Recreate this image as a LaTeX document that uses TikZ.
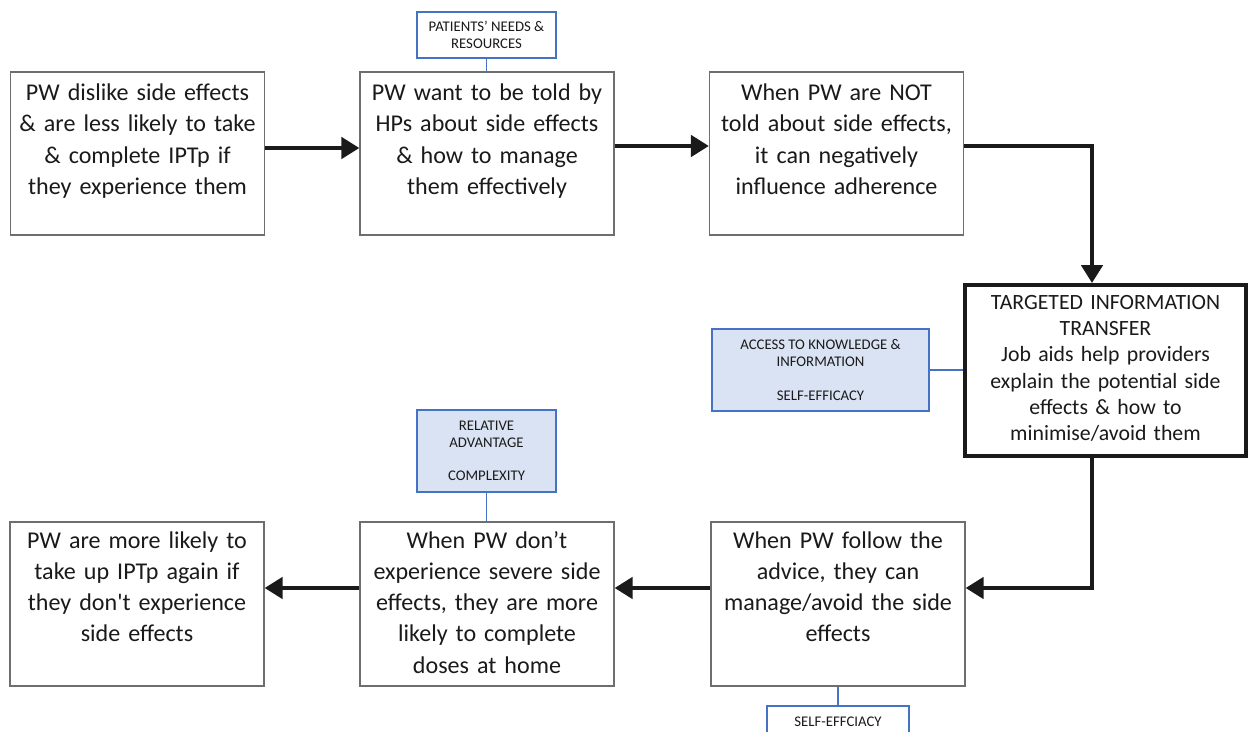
\documentclass[tikz,border=0pt]{standalone}
\usepackage{fontspec}
\setmainfont{Carlito}
\usetikzlibrary{arrows.meta}
\definecolor{ink}{HTML}{1A1A1A}
\definecolor{edge}{HTML}{6E6E6E}
\definecolor{tagline}{HTML}{4472C4}
\definecolor{tagfill}{HTML}{DAE3F3}
\tikzset{
  stepbox/.style={draw=edge, line width=0.7pt, fill=white, text=ink, align=center,
    text width=4.9cm, minimum width=5.08cm, inner xsep=0pt, inner ysep=0pt,
    text height=0.57cm, text depth=2.69cm, font=\fontsize{13.7}{17.8}\selectfont},
  keybox/.style={stepbox, draw=ink, line width=2.2pt, text width=5.62cm, minimum width=5.62cm,
    text height=0.48cm, text depth=2.94cm, font=\fontsize{12.4}{15}\selectfont},
  tag/.style={draw=tagline, line width=0.8pt, fill=white, text=ink, align=center,
    minimum width=2.78cm, inner sep=0pt, font=\fontsize{8.4}{9.5}\selectfont},
  tagf/.style={tag, fill=tagfill},
  flow/.style={draw=ink, line width=2.8pt, -{Triangle[length=0.36cm,width=0.42cm]}},
  link/.style={draw=tagline, line width=1.1pt},
}

\begin{document}
\begin{tikzpicture}[x=0.02cm,y=-0.02cm]
  \clip (0,0) rectangle (1248,732);
  % top row
  \node[stepbox] (dislike) at (137.5,153.5) {PW dislike side effects\\ \& are less likely to take\\ \& complete IPTp if\\ they experience them};
  \node[stepbox] (told) at (487,153.5) {PW want to be told by\\ HPs about side effects\\ \& how to manage\\ them effectively};
  \node[stepbox] (nottold) at (836.5,153.5) {When PW are NOT\\ told about side effects,\\ it can negatively\\ influence adherence};
  \node[keybox] (transfer) at (1105.5,370.5) {TARGETED INFORMATION\\ TRANSFER\\ Job aids help providers\\ explain the potential side\\ effects \& how to\\ minimise/avoid them};
  % bottom row
  \node[stepbox, text height=0.52cm, text depth=2.76cm] (follow) at (838,604) {When PW follow the\\ advice, they can\\ manage/avoid the side\\ effects};
  \node[stepbox, text height=0.52cm, text depth=2.76cm] (severe) at (487,604) {When PW don’t\\ experience severe side\\ effects, they are more\\ likely to complete\\ doses at home};
  \node[stepbox, text height=0.52cm, text depth=2.76cm] (again) at (137,604) {PW are more likely to\\ take up IPTp again if\\ they don\textquotesingle t experience\\ side effects};
  % determinant tags
  \node[tag, minimum height=0.92cm] (needs) at (486.5,35) {PATIENTS’ NEEDS \&\\ RESOURCES};
  \node[tagf, minimum width=4.34cm, minimum height=1.64cm] (access) at (820.5,370) {ACCESS TO KNOWLEDGE \&\\ INFORMATION\\[9.5pt] SELF-EFFICACY};
  \node[tagf, minimum height=1.64cm] (relative) at (486.5,451) {RELATIVE\\ ADVANTAGE\\[9.5pt] COMPLEXITY};
  \node[tag, minimum width=2.84cm, minimum height=0.64cm] (selfeff) at (838,722) {SELF-EFFCIACY};
  \draw[link] (needs.south) -- (needs.south |- told.north);
  \draw[link] (access.east) -- (access.east -| transfer.west);
  \draw[link] (relative.south) -- (relative.south |- severe.north);
  \draw[link] (follow.south) -- (selfeff.north);
  % flow
  \draw[flow] ([yshift=0.11cm]dislike.east) -- ([yshift=0.11cm]told.west);
  \draw[flow] ([yshift=0.15cm]told.east) -- ([yshift=0.15cm]nottold.west);
  \draw[flow] ([yshift=0.15cm]nottold.east) -| ([xshift=-0.27cm]transfer.north);
  \draw[flow] ([xshift=-0.27cm]transfer.south) |- ([yshift=0.32cm]follow.east);
  \draw[flow] ([yshift=0.32cm]follow.west) -- ([yshift=0.32cm]severe.east);
  \draw[flow] ([yshift=0.32cm]severe.west) -- ([yshift=0.32cm]again.east);
\end{tikzpicture}
\end{document}
